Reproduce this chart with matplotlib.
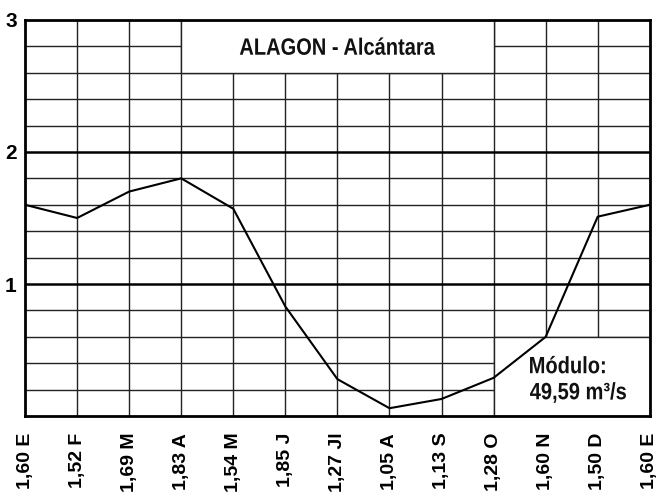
import numpy as np
import matplotlib
matplotlib.use('Agg')
import matplotlib.pyplot as plt
from matplotlib.patches import Rectangle, PathPatch
from matplotlib.textpath import TextPath
from matplotlib.font_manager import FontProperties
from matplotlib.transforms import Affine2D, ScaledTranslation

plt.rcParams['font.family'] = ['Liberation Sans', 'DejaVu Sans']

# tick labels (coefficient + month) and plotted values
labels = ['1,60 E', '1,52 F', '1,69 M', '1,83 A', '1,54 M', '1,85 J', '1,27 Jl',
          '1,05 A', '1,13 S', '1,28 O', '1,60 N', '1,50 D', '1,60 E']
values = [1.60, 1.50, 1.70, 1.80, 1.57, 0.83, 0.28, 0.06, 0.13, 0.29, 0.60, 1.51, 1.60]
y_labels = ['1', '2', '3']
title = 'ALAGON - Alcántara'
modulo = ['Módulo:', '49,59 m³/s']

x = np.arange(len(values))

fig = plt.figure(figsize=(6.59, 4.96), dpi=100)
ax = fig.add_axes([0.038, 0.161, 0.948, 0.799])
ax.set_xlim(0, 12)
ax.set_ylim(0, 3)

fp = FontProperties(family='Liberation Sans', weight='bold')


def narrow_text(xd, yd, s, size, ha='left', squeeze=0.85):
    # condensed bold text (no narrow font installed): scaled glyph outlines
    tp = TextPath((0, 0), s, size=size, prop=fp)
    ext = tp.get_extents()
    dx = -(ext.x0 + ext.x1) / 2 if ha == 'center' else -ext.x0
    dy = 0
    if ha == 'center':
        dy = -size * 0.716 / 2
    tr = (Affine2D().translate(dx, dy).scale(squeeze * fig.dpi / 72, fig.dpi / 72)
          + ScaledTranslation(xd, yd, ax.transData))
    ax.add_patch(PathPatch(tp, transform=tr, facecolor='#111111', edgecolor='none',
                           zorder=4, clip_on=False))


# grid
for xv in x[1:-1]:
    ax.axvline(xv, color='#222222', lw=1.0, zorder=1)
for yv in np.arange(0.2, 3.0, 0.2):
    if abs(yv - 1) < 1e-6 or abs(yv - 2) < 1e-6:
        ax.axhline(yv, color='black', lw=1.8, zorder=1)
    else:
        ax.axhline(yv, color='#222222', lw=1.0, zorder=1)

# title box and module box hide the grid
ax.add_patch(Rectangle((3, 2.6), 6, 0.4, facecolor='white', edgecolor='#222222', lw=1.0, zorder=2))
ax.add_patch(Rectangle((9, 0), 3, 0.6, facecolor='white', edgecolor='#222222', lw=1.0, zorder=2))

narrow_text(6, 2.8, title, 17, ha='center')
narrow_text(9.70, 0.325, modulo[0], 17)
narrow_text(9.70, 0.128, modulo[1], 17)

ax.plot(x, values, color='black', lw=1.5, zorder=3)

for s in ax.spines.values():
    s.set_linewidth(2.0)
    s.set_zorder(5)

ax.set_xticks(x)
ax.set_xticklabels(labels, rotation=90, fontsize=14, fontweight='bold', va='top')
ax.set_yticks([1, 2, 3])
ax.set_yticklabels(y_labels, fontsize=15, fontweight='bold')
ax.tick_params(axis='both', length=0)
ax.tick_params(axis='x', pad=12)
ax.tick_params(axis='y', pad=6)

fig.savefig('out.png', dpi=100)
